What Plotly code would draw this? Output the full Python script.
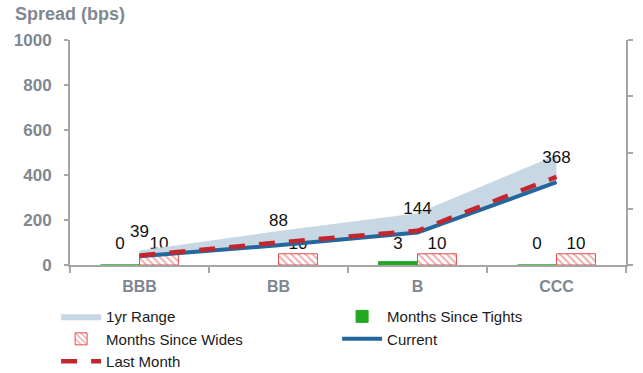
import plotly.graph_objects as go

# --- data -------------------------------------------------------------
categories = ["BBB", "BB", "B", "CCC"]
current = [39, 88, 144, 368]
last_month = [42, 100, 152, 392]
range_low = [35, 85, 140, 362]
range_high = [64, 151, 230, 489]
months_since_tights = [0, None, 3, 0]
tights_labels = ["0", "-", "3", "0"]
months_since_wides = [10, 10, 10, 10]
wides_labels = ["10", "10", "10", "10"]

FONT = "Liberation Sans, Arial, sans-serif"
AXIS_GREY = "#a6a6a6"
TICK_GREY = "#7f8891"
BLUE = "#23679c"
RED = "#c3272d"
GREEN = "#22a823"
BAND = "#c7d7e4"

idx = list(range(len(categories)))
BARGAP = 0.44
half = (1 - BARGAP) / 4  # centre offset of each of the two grouped bars
label_level = 18  # height of bar labels on the right-hand axis

fig = go.Figure()

# bars on the main subplot (right-hand axis)
fig.add_trace(go.Bar(
    x=idx, y=months_since_tights, name="Months Since Tights",
    marker=dict(color=GREEN, line=dict(color=GREEN, width=1)),
    xaxis="x", yaxis="y", legendrank=2, hoverinfo="skip"))
fig.add_trace(go.Bar(
    x=idx, y=months_since_wides, name="Months Since Wides",
    marker=dict(color="white", line=dict(color="#e05050", width=1),
                pattern=dict(shape="\\", fgcolor="#e05050", bgcolor="white",
                             size=5, solidity=0.35)),
    xaxis="x", yaxis="y", legendrank=3, hoverinfo="skip"))

fig.add_trace(go.Scatter(
    x=[i - half for i in idx], y=[label_level] * len(idx), text=tights_labels,
    mode="text", textfont=dict(family=FONT, size=17, color="#111111"),
    showlegend=False, hoverinfo="skip", xaxis="x", yaxis="y"))
fig.add_trace(go.Scatter(
    x=[i + half for i in idx], y=[label_level] * len(idx), text=wides_labels,
    mode="text", textfont=dict(family=FONT, size=17, color="#111111"),
    showlegend=False, hoverinfo="skip", xaxis="x", yaxis="y"))

# spread lines on the overlaid subplot (left-hand axis)
fig.add_trace(go.Scatter(
    x=categories, y=range_low, mode="lines", line=dict(width=0, color=BAND),
    showlegend=False, hoverinfo="skip", xaxis="x2", yaxis="y2"))
fig.add_trace(go.Scatter(
    x=categories, y=range_high, mode="lines", line=dict(width=0, color=BAND),
    fill="tonexty", fillcolor=BAND, name="1yr Range", legendrank=1,
    hoverinfo="skip", xaxis="x2", yaxis="y2"))
fig.add_trace(go.Scatter(
    x=categories, y=current, mode="lines", name="Current",
    line=dict(color=BLUE, width=4), legendrank=4,
    xaxis="x2", yaxis="y2"))
fig.add_trace(go.Scatter(
    x=categories, y=last_month, mode="lines", name="Last Month",
    line=dict(color=RED, width=4.5, dash="16px,14px"), legendrank=5,
    xaxis="x2", yaxis="y2"))
fig.add_trace(go.Scatter(
    x=categories, y=current, mode="markers+text", text=[str(v) for v in current],
    textposition="top center", marker=dict(size=22, color="rgba(0,0,0,0)"),
    textfont=dict(family=FONT, size=17, color="#111111"),
    showlegend=False, hoverinfo="skip", xaxis="x2", yaxis="y2"))

fig.update_layout(
    width=643, height=373,
    margin=dict(l=70, r=17, t=40, b=108, autoexpand=False),
    paper_bgcolor="white", plot_bgcolor="white",
    font=dict(family=FONT),
    barmode="group", bargap=BARGAP, bargroupgap=0,
    showlegend=True,
    legend=dict(orientation="h", x=-0.025, xanchor="left", y=-0.156, yanchor="top",
                entrywidth=226, entrywidthmode="pixels", traceorder="normal",
                font=dict(family=FONT, size=15, color="#1a1a1a"),
                itemwidth=40, bgcolor="rgba(0,0,0,0)"),
    xaxis=dict(range=[-0.5, 3.5], visible=False, anchor="y", fixedrange=True),
    yaxis=dict(range=[0, 200], dtick=50, side="right", showticklabels=False,
               ticks="outside", ticklen=5, tickcolor=AXIS_GREY, tickwidth=2,
               showline=True, linecolor=AXIS_GREY, linewidth=2,
               showgrid=False, zeroline=False, anchor="x"),
    xaxis2=dict(type="category", overlaying="x", anchor="y2", side="bottom",
                range=[-0.5, 3.5], tickson="boundaries", ticks="outside",
                ticklen=6, tickcolor=AXIS_GREY, tickwidth=2,
                showline=True, linecolor=AXIS_GREY, linewidth=2, showgrid=False,
                tickfont=dict(family=FONT, size=16, color=TICK_GREY, weight="bold"),
                ticklabelstandoff=6),
    yaxis2=dict(overlaying="y", side="left", anchor="x2", range=[0, 1000],
                dtick=200, ticks="outside", ticklen=4, tickcolor=AXIS_GREY,
                tickwidth=2, showline=True, linecolor=AXIS_GREY, linewidth=2,
                showgrid=False, zeroline=False,
                tickfont=dict(family=FONT, size=17, color=TICK_GREY, weight="bold"),
                ticklabelstandoff=9),
    annotations=[dict(text="Spread (bps)", xref="paper", yref="paper",
                      x=-0.102, y=1.116, xanchor="left", yanchor="middle",
                      showarrow=False,
                      font=dict(family=FONT, size=18, color=TICK_GREY, weight="bold"))],
)

fig.write_html("out.html")
